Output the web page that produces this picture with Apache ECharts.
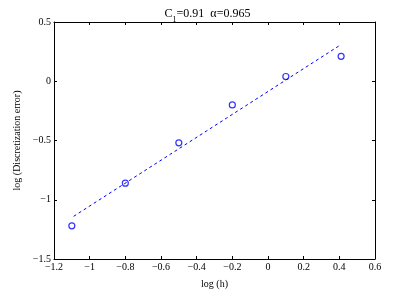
<!DOCTYPE html>
<html><head><meta charset="utf-8">
<script src="https://cdn.jsdelivr.net/npm/echarts@6/dist/echarts.min.js"></script>
<style>html,body{margin:0;padding:0;background:#fff}#c{width:415px;height:294px}</style>
</head><body><div id="c"></div>
<script>
var logH = [-1.1, -0.8, -0.5, -0.2, 0.1, 0.41];
var logErr = [-1.22, -0.86, -0.52, -0.2, 0.04, 0.21];
var fitX = [-1.09, 0.41];
var fitY = [-1.14, 0.31];
var xTicks = [-1.2, -1, -0.8, -0.6, -0.4, -0.2, 0, 0.2, 0.4, 0.6];
var yTicks = [-1.5, -1, -0.5, 0, 0.5];
var C1 = '0.91', alpha = '0.965';

var font = 'Liberation Serif';
function fmt(v){ var s = String(Math.round(v*10)/10); return s.replace('-', '\u2212'); }
var axisLine = {show:true, onZero:false, lineStyle:{color:'#000', width:1}};
var tick = {show:true, inside:true, length:3, lineStyle:{color:'#000'}};
var chart = echarts.init(document.getElementById('c'), null, {renderer:'canvas'});
chart.setOption({
  animation:false,
  backgroundColor:'#fff',
  title:{
    text:'C{sub|1}=' + C1 + '  \u03b1=' + alpha,
    left:'center', top:3,
    textStyle:{fontFamily:font, fontSize:12, fontWeight:'normal', color:'#000',
      rich:{sub:{fontFamily:font, fontSize:8, color:'#000', verticalAlign:'bottom', padding:[0,0,-4,0]}}}
  },
  grid:{left:54, right:40, top:22, bottom:35},
  xAxis:[{
    type:'value', min:xTicks[0], max:xTicks[xTicks.length-1], interval:0.2,
    name:'log (h)', nameLocation:'middle', nameGap:20,
    nameTextStyle:{fontFamily:font, fontSize:10, color:'#000'},
    axisLine:axisLine, axisTick:tick, splitLine:{show:false},
    axisLabel:{fontFamily:font, fontSize:10, color:'#000', margin:3, formatter:fmt}
  },{
    type:'value', position:'top', min:xTicks[0], max:xTicks[xTicks.length-1], interval:0.2,
    axisLine:axisLine, axisTick:tick, axisLabel:{show:false}, splitLine:{show:false}
  }],
  yAxis:[{
    type:'value', min:yTicks[0], max:yTicks[yTicks.length-1], interval:0.5,
    name:'log (Discretization error)', nameLocation:'middle', nameGap:28,
    nameTextStyle:{fontFamily:font, fontSize:10, color:'#000'},
    axisLine:axisLine, axisTick:tick, splitLine:{show:false},
    axisLabel:{fontFamily:font, fontSize:10, color:'#000', margin:3, formatter:fmt}
  },{
    type:'value', position:'right', min:yTicks[0], max:yTicks[yTicks.length-1], interval:0.5,
    axisLine:axisLine, axisTick:tick, axisLabel:{show:false}, splitLine:{show:false}
  }],
  series:[{
    type:'scatter', data:logH.map(function(x,i){return [x, logErr[i]];}),
    symbol:'circle', symbolSize:6,
    itemStyle:{color:'transparent', borderColor:'#0000ff', borderWidth:1.2}
  },{
    type:'line', data:fitX.map(function(x,i){return [x, fitY[i]];}),
    showSymbol:false, symbol:'none',
    lineStyle:{color:'#0000ff', width:1, type:[3,3]}
  }]
});
</script></body></html>
